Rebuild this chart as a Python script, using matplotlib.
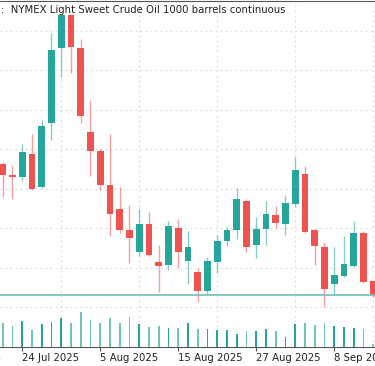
import matplotlib.pyplot as plt
import numpy as np
import pandas as pd

start = '2025-07-22'
dates = pd.bdate_range(start, periods=39)
opens = [66.61, 66.33, 66.30, 66.88, 66.04, 67.65, 69.56, 70.39, 69.56, 67.42, 66.96, 66.08, 65.48,
         64.95, 64.40, 65.10, 64.15, 64.06, 65.01, 64.17, 63.89, 63.41, 64.14, 64.67, 64.95, 65.69,
         64.56, 64.97, 65.33, 65.10, 65.62, 66.38, 64.94, 64.53, 63.57, 63.79, 64.05, 64.87, 63.67]
highs = [66.66, 66.59, 67.12, 67.38, 67.73, 69.93, 70.43, 70.43, 69.78, 68.24, 66.99, 67.38, 66.03,
         65.58, 65.47, 65.40, 64.57, 65.18, 65.22, 64.93, 63.98, 64.27, 64.82, 65.03, 66.01, 65.74,
         65.29, 65.69, 65.56, 65.84, 66.81, 66.56, 64.97, 64.65, 64.53, 64.80, 65.18, 64.93, 63.68]
lows = [65.79, 65.73, 66.20, 65.96, 66.02, 67.23, 68.83, 68.92, 67.67, 66.32, 65.96, 64.81, 64.87,
        64.11, 64.30, 64.30, 63.39, 63.94, 63.99, 63.58, 63.13, 63.30, 63.87, 64.54, 64.71, 64.38,
        64.23, 64.57, 65.01, 64.82, 65.52, 64.87, 64.06, 62.99, 63.30, 63.75, 64.02, 63.60, 63.25]
closes = [66.33, 66.28, 66.92, 65.98, 67.59, 69.51, 70.39, 69.59, 67.84, 66.96, 66.08, 65.35, 64.95,
          64.74, 65.10, 64.32, 64.04, 65.05, 64.38, 64.52, 63.41, 64.16, 64.67, 64.94, 65.73, 64.51,
          64.97, 65.36, 65.13, 65.64, 66.48, 64.91, 64.54, 63.45, 63.81, 64.08, 64.88, 63.64, 63.30]
volumes = [233, 210, 253, 170, 230, 247, 290, 233, 350, 270, 240, 290, 233, 297, 223, 197, 210, 187,
           190, 233, 177, 180, 170, 167, 123, 160, 160, 177, 160, 100, 223, 237, 217, 240, 210, 197,
           183, 180, 30]  # thousands
last_price = 63.30
tick_dates = ['2025-07-14', '2025-07-24', '2025-08-05', '2025-08-15', '2025-08-27', '2025-09-08']

up_col = '#26a69a'
down_col = '#ef5350'

x = np.arange(len(dates))
o = np.array(opens); c = np.array(closes)
up = c >= o
cols = np.where(up, up_col, down_col)

fig = plt.figure(figsize=(3.75, 3.66), dpi=100)
ax = fig.add_axes([0, 19.5 / 366, 1, 346 / 366])

# wicks then bodies
ax.vlines(x, lows, highs, colors=cols, linewidth=1, alpha=0.55, zorder=2)
ax.bar(x, np.abs(c - o), bottom=np.minimum(o, c), width=0.68, color=cols, linewidth=0, zorder=3)
ax.axhline(last_price, color='#6cc2b6', linewidth=1.2, zorder=4)

# volume overlay at the bottom of the same pane
ax2 = ax.twinx()
vcols = np.where(up, up_col, '#6fc6bb')
ax2.bar(x, volumes, width=0.17, color=vcols, linewidth=0)
ax2.set_ylim(0, 3460)
ax2.axis('off')

ax.set_yticks(np.arange(63, 71))
ax.tick_params(axis='y', length=0, labelleft=False)

tick_pos = [int(np.busday_count(start, d)) for d in tick_dates]
tick_lbl = [pd.Timestamp(d).strftime('%-d %b %Y') for d in tick_dates]
ax.set_xticks(tick_pos)
ax.set_xticklabels(tick_lbl, ha='left', fontsize=7.3, color='#222222')
ax.set_xticks(np.arange(-2, 40, 4), minor=True)
ax.tick_params(axis='x', which='major', length=3, width=0.8, color='#555555', pad=1.5)
ax.tick_params(axis='x', which='minor', length=0)
ax.grid(True, which='minor', axis='x', linestyle=(0, (1.5, 2.5)), color='#dddddd', linewidth=0.9)
ax.grid(True, which='major', axis='y', linestyle=(0, (1.5, 2.5)), color='#dddddd', linewidth=0.9)
ax.grid(False, which='major', axis='x')
ax.set_axisbelow(True)
for s in ['left', 'right']:
    ax.spines[s].set_visible(False)
ax.spines['top'].set_color('#555555')
ax.spines['bottom'].set_color('#555555')
ax.spines['bottom'].set_linewidth(0.8)

# limits last, set_xticks would widen them otherwise
ax.set_xlim(-0.277, 38.18)
ax.set_ylim(62.0, 70.76)

# labels whose tick lies left of the view are still partly shown
for p, lbl in zip(tick_pos, tick_lbl):
    if p < ax.get_xlim()[0]:
        ax.annotate(lbl, xy=(p, 0), xycoords=ax.get_xaxis_transform(), xytext=(0, -4.5),
                    textcoords='offset points', ha='left', va='top', fontsize=7.3,
                    color='#222222', annotation_clip=False)

fig.text(1 / 375, 1 - 10 / 366, ':  NYMEX Light Sweet Crude Oil 1000 barrels continuous',
         fontsize=7.3, va='center', ha='left', color='#222222')

fig.savefig('out.png', dpi=100)
